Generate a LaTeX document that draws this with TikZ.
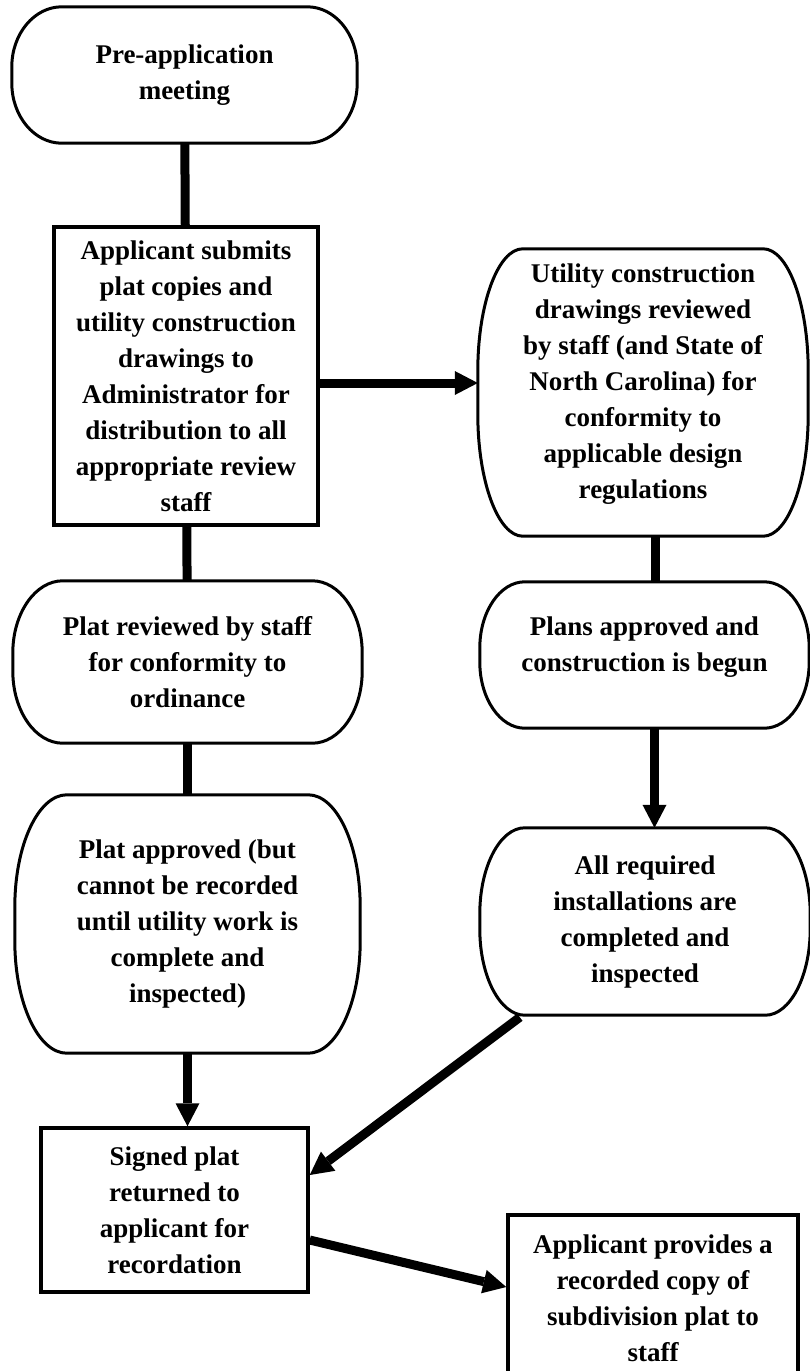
\documentclass[tikz,border=0pt]{standalone}
\usepackage{fontspec}
\setmainfont{Liberation Serif}
\usetikzlibrary{arrows.meta,calc}

\tikzset{
  txt/.style={align=center, inner sep=0pt, font=\bfseries\fontsize{27}{36}\selectfont},
  size/.style 2 args={minimum width=#1pt, minimum height=#2pt},
  stepbox/.style={txt, draw, line width=3.5pt},
  oval/.style={txt},
  outline/.style={line width=3pt},
  link/.style={line width=9pt},
  arrow/.style={link, -{Triangle[length=23pt,width=24pt,line width=0pt]}}
}

\newcommand{\lowpad}{\rule[-22pt]{0pt}{0pt}}
\newcommand{\ovalline}[3]{%
  \draw[outline] ($(#1.north west)+(#2,0)$) -- ($(#1.north east)+(-#2,0)$)
    .. controls ($(#1.north east)+(-0.45*#2,0)$) and ($(#1.north east)+(0,0.45*#3)$) .. ($(#1.north east)+(0,#3)$)
    -- ($(#1.south east)+(0,-#3)$)
    .. controls ($(#1.south east)+(0,-0.45*#3)$) and ($(#1.south east)+(-0.45*#2,0)$) .. ($(#1.south east)+(-#2,0)$)
    -- ($(#1.south west)+(#2,0)$)
    .. controls ($(#1.south west)+(0.45*#2,0)$) and ($(#1.south west)+(0,-0.45*#3)$) .. ($(#1.south west)+(0,-#3)$)
    -- ($(#1.north west)+(0,#3)$)
    .. controls ($(#1.north west)+(0,0.45*#3)$) and ($(#1.north west)+(0.45*#2,0)$) .. ($(#1.north west)+(#2,0)$) -- cycle;}

\begin{document}
\begin{tikzpicture}[x=1pt,y=-1pt]
	\clip (0,0) rectangle (810,1371);

	\node[oval, size={345}{136}] (pre) at (184.5,75) {Pre-application\\meeting};
	\node[stepbox, size={264}{298}] (submit) at (186,376) {Applicant submits\\plat copies and\\utility construction\\drawings to\\Administrator for\\distribution to all\\appropriate review\\staff};
	\node[oval, size={330}{287}] (utility) at (643,392.5) {Utility construction\\drawings reviewed\\by staff (and State of\\North Carolina) for\\conformity to\\applicable design\\regulations\lowpad};
	\node[oval, size={349}{162}] (review) at (187.5,662) {Plat reviewed by staff\\for conformity to\\ordinance};
	\node[oval, size={329}{146}] (plans) at (644.5,655) {Plans approved and\\construction is begun\lowpad};
	\node[oval, size={345}{258}] (approved) at (187.5,924) {Plat approved (but\\cannot be recorded\\until utility work is\\complete and\\inspected)};
	\node[oval, size={330}{187}] (install) at (645,921.5) {All required\\installations are\\completed and\\inspected};
	\node[stepbox, size={267}{164}] (signed) at (174.5,1210) {Signed plat\\returned to\\applicant for\\recordation};
	\node[stepbox, size={290}{166}] (copy) at (653,1298) {Applicant provides a\\recorded copy of\\subdivision plat to\\staff};

	\ovalline{pre}{50}{60}
	\ovalline{utility}{45}{122}
	\ovalline{review}{50}{72}
	\ovalline{plans}{45}{66}
	\ovalline{approved}{52}{112}
	\ovalline{install}{45}{86}

	\draw[link] (pre) -- (submit);
	\draw[link] (submit) -- (review);
	\draw[link] (review) -- (approved);
	\draw[arrow] (approved.south) -- (approved.south |- signed.north);
	\draw[arrow] ([yshift=-7pt]submit.east) -- ([yshift=-7pt]submit.east -| utility.west);
	\draw[link] ([xshift=12pt]utility.south) -- ([xshift=12pt]utility.south |- plans.north);
	\draw[arrow] ([xshift=10pt]plans.south) -- ([xshift=10pt]plans.south |- install.north);
	\draw[arrow] ($(install.south west)+(40,2)$) -- ($(signed.east)+(0,-35)$);
	\draw[arrow] ($(signed.east)+(0,30)$) -- ($(copy.west)+(0,-11)$);
\end{tikzpicture}
\end{document}
